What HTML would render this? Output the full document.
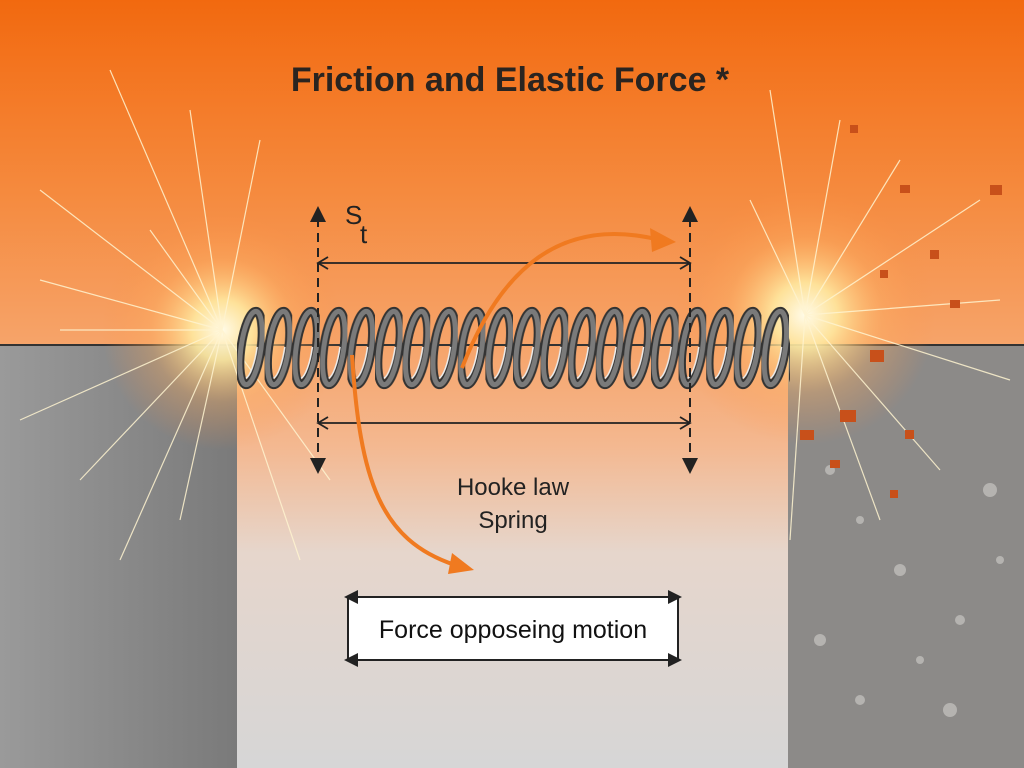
<!DOCTYPE html>
<html><head><meta charset="utf-8"><style>
html,body{margin:0;padding:0;width:1024px;height:768px;overflow:hidden}
body{background:linear-gradient(#f2690f 0%,#f58a3e 25%,#f6a46a 45%,#f4b890 58%,#e6d6cc 72%,#d6d6d6 100%);position:relative;font-family:"Liberation Sans",sans-serif}
</style></head><body>
<svg width="1024" height="768" style="position:absolute;left:0;top:0">
<defs>
<radialGradient id="glow"><stop offset="0" stop-color="#fffbe8"/><stop offset="0.25" stop-color="#ffe9a0" stop-opacity="0.9"/><stop offset="0.6" stop-color="#ffb060" stop-opacity="0.35"/><stop offset="1" stop-color="#ff9040" stop-opacity="0"/></radialGradient>
<linearGradient id="lg" x1="0" x2="1"><stop offset="0" stop-color="#9a9a9a"/><stop offset="1" stop-color="#7a7a7a"/></linearGradient>
<pattern id="coil" x="237" y="300" width="27.6" height="100" patternUnits="userSpaceOnUse">
<ellipse cx="14" cy="48" rx="10" ry="37" transform="rotate(8 14 48)" fill="none" stroke="#333" stroke-width="9"/>
<ellipse cx="14" cy="48" rx="10" ry="37" transform="rotate(8 14 48)" fill="none" stroke="#7a7a7a" stroke-width="5"/>
<ellipse cx="12" cy="46" rx="8" ry="33" transform="rotate(8 14 48)" fill="none" stroke="#eee" stroke-width="1.5" stroke-dasharray="34 200"/>
</pattern>
</defs>
<rect x="0" y="345" width="237" height="423" fill="url(#lg)"/>
<rect x="788" y="345" width="236" height="423" fill="#8c8a88"/>
<g fill="#b5b3b0">
<circle cx="830" cy="470" r="5"/><circle cx="860" cy="520" r="4"/><circle cx="900" cy="570" r="6"/><circle cx="960" cy="620" r="5"/><circle cx="820" cy="640" r="6"/><circle cx="990" cy="490" r="7"/><circle cx="950" cy="710" r="7"/><circle cx="860" cy="700" r="5"/><circle cx="1000" cy="560" r="4"/><circle cx="920" cy="660" r="4"/>
</g>
<line x1="0" y1="345" x2="1024" y2="345" stroke="#333" stroke-width="2"/>
<circle cx="222" cy="330" r="120" fill="url(#glow)"/>
<circle cx="805" cy="315" r="130" fill="url(#glow)"/>
<g stroke="#fff4d0" stroke-width="1.2" opacity="0.85">
<line x1="222" y1="330" x2="110" y2="70"/><line x1="222" y1="330" x2="40" y2="190"/><line x1="222" y1="330" x2="20" y2="420"/><line x1="222" y1="330" x2="120" y2="560"/><line x1="222" y1="330" x2="300" y2="560"/><line x1="222" y1="330" x2="260" y2="140"/><line x1="222" y1="330" x2="190" y2="110"/><line x1="222" y1="330" x2="60" y2="330"/><line x1="222" y1="330" x2="80" y2="480"/><line x1="222" y1="330" x2="330" y2="480"/><line x1="222" y1="330" x2="150" y2="230"/><line x1="222" y1="330" x2="40" y2="280"/><line x1="222" y1="330" x2="180" y2="520"/>
<line x1="805" y1="315" x2="770" y2="90"/><line x1="805" y1="315" x2="840" y2="120"/><line x1="805" y1="315" x2="980" y2="200"/><line x1="805" y1="315" x2="1010" y2="380"/><line x1="805" y1="315" x2="940" y2="470"/><line x1="805" y1="315" x2="790" y2="540"/><line x1="805" y1="315" x2="750" y2="200"/><line x1="805" y1="315" x2="880" y2="520"/><line x1="805" y1="315" x2="1000" y2="300"/><line x1="805" y1="315" x2="900" y2="160"/>
</g>
<g fill="#c8501a">
<rect x="850" y="125" width="8" height="8"/><rect x="900" y="185" width="10" height="8"/><rect x="990" y="185" width="12" height="10"/><rect x="930" y="250" width="9" height="9"/><rect x="880" y="270" width="8" height="8"/><rect x="950" y="300" width="10" height="8"/><rect x="870" y="350" width="14" height="12"/><rect x="800" y="430" width="14" height="10"/><rect x="830" y="460" width="10" height="8"/><rect x="905" y="430" width="9" height="9"/><rect x="890" y="490" width="8" height="8"/><rect x="840" y="410" width="16" height="12"/>
</g>
<rect x="237" y="305" width="553" height="88" fill="url(#coil)"/>
<g stroke="#222" stroke-width="2" stroke-dasharray="9 6">
<line x1="318" y1="218" x2="318" y2="462"/><line x1="690" y1="218" x2="690" y2="462"/>
</g>
<g fill="#222">
<path d="M310,222L318,206L326,222z"/><path d="M682,222L690,206L698,222z"/>
<path d="M310,458L318,474L326,458z"/><path d="M682,458L690,474L698,458z"/>
</g>
<g stroke="#222" stroke-width="1.8" fill="none">
<line x1="318" y1="263" x2="690" y2="263"/><line x1="318" y1="423" x2="690" y2="423"/>
<path d="M328,257L318,263L328,269M680,257L690,263L680,269M328,417L318,423L328,429M680,417L690,423L680,429"/>
</g>
<text x="345" y="224" font-size="26" fill="#222">S</text><text x="360" y="243" font-size="26" fill="#222">t</text>
<path d="M462,368 C500,270 560,215 660,240" stroke="#f07a20" stroke-width="4" fill="none"/>
<path d="M650,228L676,242L652,252z" fill="#f07a20"/>
<path d="M352,355 C360,480 380,540 455,565" stroke="#f07a20" stroke-width="4" fill="none"/>
<path d="M452,553L474,570L448,574z" fill="#f07a20"/>
<text x="513" y="495" font-size="24" text-anchor="middle" fill="#222">Hooke law</text>
<text x="513" y="528" font-size="24" text-anchor="middle" fill="#222">Spring</text>
<rect x="348" y="597" width="330" height="63" fill="#fff" stroke="#222" stroke-width="2"/>
<g fill="#222"><path d="M344,597L358,590L358,604z"/><path d="M682,597L668,590L668,604z"/><path d="M344,660L358,653L358,667z"/><path d="M682,660L668,653L668,667z"/></g>
<text x="513" y="638" font-size="25" text-anchor="middle" fill="#111">Force opposeing motion</text>
<text x="510" y="91" font-size="34" font-weight="bold" text-anchor="middle" fill="#2a2420">Friction and Elastic Force *</text>
</svg>
</body></html>
